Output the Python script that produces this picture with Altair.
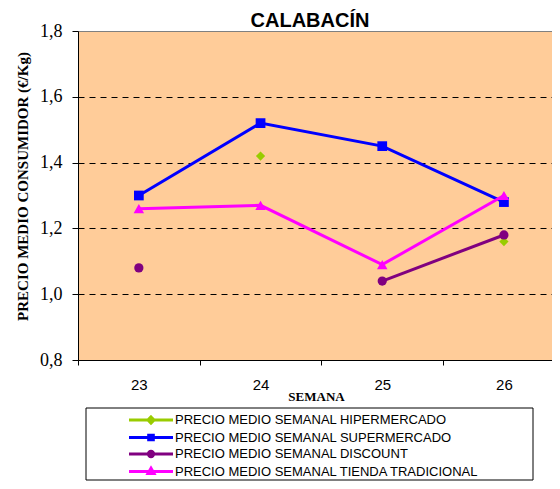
import altair as alt
import pandas as pd

WEEKS = [23, 24, 25, 26]
SERIES = [
    "PRECIO MEDIO SEMANAL HIPERMERCADO",
    "PRECIO MEDIO SEMANAL SUPERMERCADO",
    "PRECIO MEDIO SEMANAL DISCOUNT",
    "PRECIO MEDIO SEMANAL TIENDA TRADICIONAL",
]
HIPER = [None, 1.42, None, 1.16]
SUPER = [1.30, 1.52, 1.45, 1.28]
DISCOUNT = [1.08, None, 1.04, 1.18]
TIENDA = [1.26, 1.27, 1.09, 1.30]
VALUES = [HIPER, SUPER, DISCOUNT, TIENDA]
COLORS = ["#99CC00", "#0000FF", "#800080", "#FF00FF"]
SHAPES = ["diamond", "square", "circle", "triangle-up"]
SIZES = [85, 95, 85, 110]
Y_TICKS = [0.8, 1.0, 1.2, 1.4, 1.6, 1.8]
X_TICKS = [22.5, 23, 23.5, 24, 24.5, 25, 25.5, 26]

# legend symbols: line with a marker in the middle
LEG_PATHS = [
    "M-4,0H4M0,-0.55L0.55,0L0,0.55L-0.55,0Z",
    "M-4,0H4M-0.42,-0.42H0.42V0.42H-0.42Z",
    "M-4,0H4M-0.48,0A0.48,0.48,0,1,0,0.48,0A0.48,0.48,0,1,0,-0.48,0Z",
    "M-4,0H4M0,-0.6L0.55,0.38L-0.55,0.38Z",
]

rows = []
for s, vals in zip(SERIES, VALUES):
    for w, v in zip(WEEKS, vals):
        rows.append({"week": w, "series": s, "price": v})
df = pd.DataFrame(rows)

x_enc = alt.X(
    "week:Q",
    scale=alt.Scale(domain=[22.5, 26.395], nice=False, zero=False),
    axis=alt.Axis(
        values=X_TICKS,
        labelExpr="datum.value % 1 == 0 ? format(datum.value, 'd') : ''",
        tickOpacity=alt.ExprRef(expr="datum.value % 1 == 0 ? 0 : 1"),
        grid=False,
        domainColor="black",
        tickColor="black",
        tickSize=5,
        labelPadding=12,
        labelFont="Liberation Sans",
        labelFontSize=15,
        labelColor="black",
        labelFlush=False,
        labelOverlap=False,
        title="SEMANA",
        titleFont="Liberation Serif",
        titleFontSize=13,
        titleFontWeight="bold",
        titleColor="black",
        titleX=238,
        titleY=30,
        titleAlign="center",
        titleBaseline="top",
    ),
)
y_enc = alt.Y(
    "price:Q",
    scale=alt.Scale(domain=[0.8, 1.8], nice=False, zero=False),
    axis=alt.Axis(
        values=Y_TICKS,
        labelExpr="replace(format(datum.value, '.1f'), '.', ',')",
        labelFont="Liberation Serif",
        labelFontSize=18,
        labelColor="black",
        labelPadding=10,
        labelFlush=False,
        labelOverlap=False,
        tickSize=6,
        tickColor="black",
        domainColor="black",
        grid=True,
        gridColor=alt.ExprRef(expr="datum.value > 1.75 ? '#808080' : 'black'"),
        gridDash=alt.ExprRef(expr="datum.value > 1.75 ? [] : [6, 5]"),
        gridWidth=1,
        gridOpacity=alt.ExprRef(expr="datum.value > 0.85 ? 1 : 0"),
        title="PRECIO MEDIO CONSUMIDOR (€/Kg)",
        titleFont="Liberation Serif",
        titleFontSize=15,
        titleFontWeight="bold",
        titleColor="black",
        titleX=-51,
        titleY=155,
        titleAngle=270,
        titleAlign="center",
        titleBaseline="alphabetic",
    ),
)

base = alt.Chart(df)
layers = []

# frame of the legend box (decoration below the plot area)
legend_frame = alt.Chart(pd.DataFrame({"box": [0]})).mark_rect(
    fill="white", stroke="black", strokeWidth=1
).encode(x=alt.value(8), x2=alt.value(455), y=alt.value(377), y2=alt.value(449))
layers.append(legend_frame)

for s, c, sh, sz in zip(SERIES, COLORS, SHAPES, SIZES):
    sub = base.transform_filter(alt.FieldEqualPredicate(field="series", equal=s))
    layers.append(
        sub.mark_line(color=c, strokeWidth=3, invalid="break-paths-show-domains").encode(x=x_enc, y=y_enc)
    )
    layers.append(
        sub.mark_point(shape=sh, filled=True, color=c, size=sz, opacity=1).encode(x=x_enc, y=y_enc)
    )

leg = alt.Legend(orient="none", legendX=8, legendY=379, title=None)
legend_layer = base.mark_point(filled=True, opacity=0, strokeWidth=3).encode(
    x=x_enc,
    y=y_enc,
    fill=alt.Fill("series:N", scale=alt.Scale(domain=SERIES, range=COLORS), legend=leg, sort=SERIES),
    stroke=alt.Stroke("series:N", scale=alt.Scale(domain=SERIES, range=COLORS), legend=leg, sort=SERIES),
    shape=alt.Shape("series:N", scale=alt.Scale(domain=SERIES, range=LEG_PATHS), legend=leg, sort=SERIES),
)
layers.append(legend_layer)

chart = (
    alt.layer(*layers)
    .properties(
        width=474,
        height=329,
        background="white",
        title=alt.TitleParams(
            "CALABACÍN",
            font="Liberation Sans",
            fontSize=20,
            fontWeight="bold",
            color="black",
            anchor="middle",
            frame="group",
            dx=-5,
            offset=-9,
        ),
        autosize=alt.AutoSizeParams(type="none"),
        padding={"left": 70, "top": 23, "right": 0, "bottom": 121},
    )
    .configure_view(fill="#FFCC99", strokeWidth=0)
    .configure_legend(
        padding=3,
        labelFont="Liberation Sans",
        labelFontSize=13,
        labelColor="black",
        labelLimit=354,
        symbolSize=121,
        symbolStrokeWidth=3,
        symbolOffset=55,
        labelOffset=17,
        rowPadding=-1.5,
        symbolOpacity=1,
    )
)

chart.save("out.html", embed_options={"renderer": "svg", "actions": False})
